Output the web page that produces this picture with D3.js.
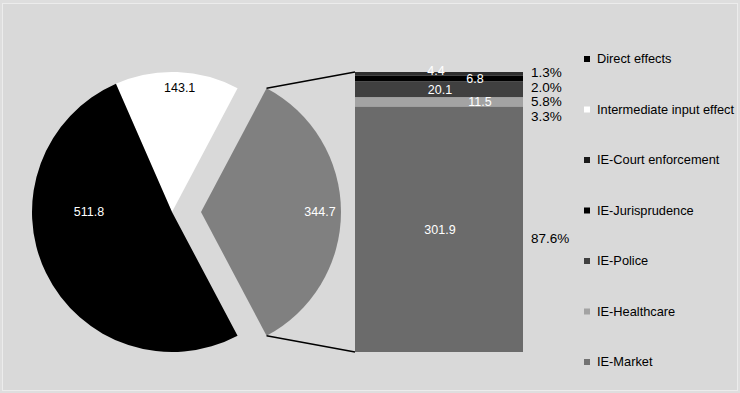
<!DOCTYPE html>
<html>
<head>
<meta charset="utf-8">
<script src="https://cdn.jsdelivr.net/npm/d3@7/dist/d3.min.js"></script>
<style>
  html, body { margin: 0; padding: 0; background: #dedede; }
  svg { display: block; font-family: "Liberation Sans", Arial, sans-serif; }
</style>
</head>
<body>
<svg id="chart" width="740" height="393"></svg>
<script>
// Main pie: direct effects, intermediate input effect, and the indirect total split out in the bar
const pieCategories = ["Intermediate input effect", "Indirect effects", "Direct effects"];
const pieValues = [143.1, 344.7, 511.8];
const pieColors = ["#ffffff", "#808080", "#000000"];
const pieLabelColors = ["#000000", "#ffffff", "#ffffff"];

// Breakdown of the indirect effects (stacked bar, top to bottom)
const barCategories = ["IE-Court enforcement", "IE-Jurisprudence", "IE-Police", "IE-Healthcare", "IE-Market"];
const barValues = [4.4, 6.8, 20.1, 11.5, 301.9];
const barColors = ["#2e2e2e", "#000000", "#404040", "#a3a3a3", "#6b6b6b"];

// Legend entries
const legendLabels = ["Direct effects", "Intermediate input effect", "IE-Court enforcement",
  "IE-Jurisprudence", "IE-Police", "IE-Healthcare", "IE-Market"];
const legendColors = ["#000000", "#ffffff", "#1a1a1a", "#000000", "#404040", "#a3a3a3", "#737373"];

const svg = d3.select("#chart");
const W = 740, H = 393;

// Chart area frame
svg.append("rect")
  .attr("x", 2.5).attr("y", 3.5).attr("width", W - 5).attr("height", H - 6)
  .attr("fill", "#d9d9d9").attr("stroke", "#ececec").attr("stroke-width", 1);

// ---- Pie ----
const cx = 172, cy = 212, R = 140, explode = 29;
const total = d3.sum(pieValues);
const grayAngle = pieValues[1] / total * 2 * Math.PI;
const whiteAngle = pieValues[0] / total * 2 * Math.PI;
const start = Math.PI / 2 - grayAngle / 2 - whiteAngle;

const pie = d3.pie().sort(null).value(d => d).startAngle(start).endAngle(start + 2 * Math.PI);
const arcs = pie(pieValues);
const arc = d3.arc().innerRadius(0).outerRadius(R);

const pieG = svg.append("g");
arcs.forEach((a, i) => {
  const mid = (a.startAngle + a.endAngle) / 2;
  const off = i === 1 ? explode : 0;
  const dx = off * Math.sin(mid), dy = -off * Math.cos(mid);
  pieG.append("path")
    .attr("d", arc(a))
    .attr("transform", `translate(${cx + dx},${cy + dy})`)
    .attr("fill", pieColors[i]);
});

// Pie value labels
const pieLabelPos = [
  (a) => { const m = (a.startAngle + a.endAngle) / 2, r = 124; return [cx + r * Math.sin(m) + 3, cy - r * Math.cos(m)]; },
  (a) => { const m = (a.startAngle + a.endAngle) / 2, r = 119; return [cx + explode + r * Math.sin(m), cy - r * Math.cos(m)]; },
  () => [cx - 83, cy]
];
arcs.forEach((a, i) => {
  const [x, y] = pieLabelPos[i](a);
  svg.append("text")
    .attr("x", x).attr("y", y).attr("dy", "0.35em")
    .attr("text-anchor", "middle")
    .attr("font-size", 12.5)
    .attr("fill", pieLabelColors[i])
    .text(pieValues[i].toFixed(1));
});

// ---- Stacked bar ----
const barX0 = 355, barX1 = 523, barTop = cy - R, barBottom = cy + R;
const barSum = d3.sum(barValues);
const y = d3.scaleLinear().domain([0, barSum]).range([barTop, barBottom]);
const cum = [0];
barValues.forEach((v, i) => cum.push(cum[i] + v));

const barG = svg.append("g");
barValues.forEach((v, i) => {
  barG.append("rect")
    .attr("x", barX0).attr("width", barX1 - barX0)
    .attr("y", y(cum[i])).attr("height", y(cum[i + 1]) - y(cum[i]))
    .attr("fill", barColors[i]);
});

// Connector lines from the exploded slice to the bar
const g = arcs[1];
const p1 = [cx + explode + R * Math.sin(g.startAngle), cy - R * Math.cos(g.startAngle)];
const p2 = [cx + explode + R * Math.sin(g.endAngle), cy - R * Math.cos(g.endAngle)];
svg.append("line").attr("x1", p1[0]).attr("y1", p1[1]).attr("x2", barX0).attr("y2", barTop)
  .attr("stroke", "#000").attr("stroke-width", 1.5);
svg.append("line").attr("x1", p2[0]).attr("y1", p2[1]).attr("x2", barX0).attr("y2", barBottom)
  .attr("stroke", "#000").attr("stroke-width", 1.5);

// Value labels inside the bar (small segments nudged sideways so they don't collide)
const barMid = (barX0 + barX1) / 2;
const labelShift = [-3, 36, 1, 41, 1];
const labelYShift = [-3, 0, 0, 0, 0];
barValues.forEach((v, i) => {
  const yc = (y(cum[i]) + y(cum[i + 1])) / 2;
  svg.append("text")
    .attr("x", barMid + labelShift[i]).attr("y", yc + labelYShift[i]).attr("dy", "0.35em")
    .attr("text-anchor", "middle")
    .attr("font-size", 12.5).attr("fill", "#ffffff")
    .text(v.toFixed(1));
});

// Percentage share labels to the right of the bar
const pct = d3.format(".1%");
let prevY = -Infinity;
barValues.forEach((v, i) => {
  const yc = (y(cum[i]) + y(cum[i + 1])) / 2;
  const ly = i === 0 ? barTop : Math.max(yc + 9, prevY + 14.3);
  prevY = ly;
  svg.append("text")
    .attr("x", barX1 + 8).attr("y", ly).attr("dy", "0.35em")
    .attr("font-size", 13.5).attr("fill", "#000")
    .text(pct(v / barSum));
});

// ---- Legend ----
const leg = svg.append("g");
legendLabels.forEach((lab, i) => {
  const ly = 59 + i * 50.5;
  leg.append("rect").attr("x", 584).attr("y", ly - 3).attr("width", 6).attr("height", 6)
    .attr("fill", legendColors[i]);
  leg.append("text").attr("x", 597).attr("y", ly).attr("dy", "0.35em")
    .attr("font-size", 12.8).attr("fill", "#000").text(lab);
});
</script>
</body>
</html>
